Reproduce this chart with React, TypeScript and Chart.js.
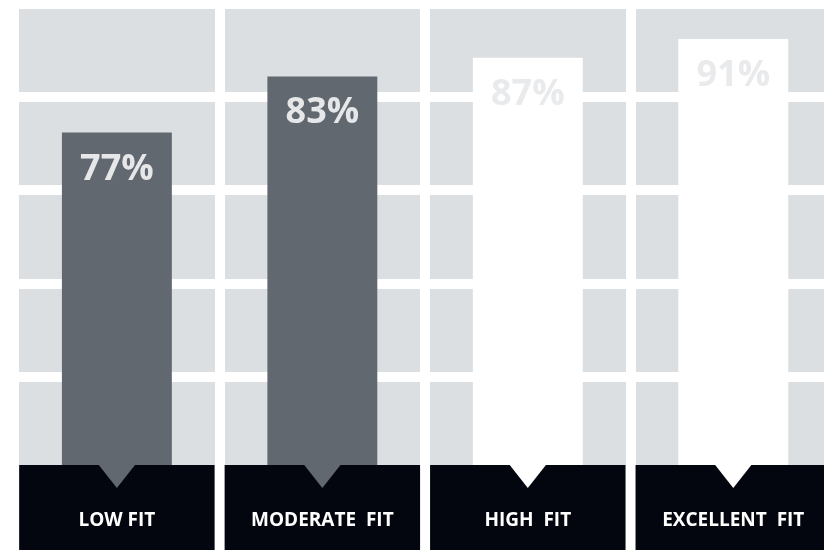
import React, { useEffect, useRef } from "react";
import { Chart, registerables } from "chart.js";

Chart.register(...registerables);

// Categories shown in the black band
const categories = ["LOW FIT", "MODERATE  FIT", "HIGH  FIT", "EXCELLENT  FIT"];
// Bar heights as drawn in the picture (percent of the axis)
const barLevels = [71, 83, 87, 91];
// Percentages printed on the bars
const percentLabels = [77, 83, 87, 91];
// Row divider positions of the background grid
const rowTicks = [1, 2, 3, 4];

const barColors = ["#61686f", "#61686f", "#ffffff", "#ffffff"];
const percentColors = ["#e6e7e9", "#e6e7e9", "#e9eaec", "#e9eaec"];
const panelColor = "#dcdfe2";
const bandColor = "#03060e";
const FONT = '"Open Sans", "Noto Sans", sans-serif';

const decorPlugin = {
  id: "decor",
  beforeDraw(chart: any) {
    const { ctx, chartArea, scales } = chart;
    ctx.save();
    ctx.fillStyle = panelColor;
    ctx.fillRect(
      chartArea.left,
      chartArea.top,
      chartArea.right - chartArea.left,
      chartArea.bottom - chartArea.top
    );
    const n = categories.length;
    const w = (chartArea.right - chartArea.left) / n;
    ctx.fillStyle = bandColor;
    for (let i = 0; i < n; i++) {
      const c = scales.x.getPixelForValue(i);
      ctx.fillRect(c - w / 2 + 5, chartArea.bottom, w - 10, chart.height - chartArea.bottom);
    }
    ctx.restore();
  },
  afterDatasetsDraw(chart: any) {
    const { ctx, chartArea } = chart;
    const meta = chart.getDatasetMeta(0);
    ctx.save();
    meta.data.forEach((bar: any, i: number) => {
      const base = chartArea.bottom;
      ctx.fillStyle = barColors[i];
      ctx.beginPath();
      ctx.moveTo(bar.x - 18.5, base - 0.5);
      ctx.lineTo(bar.x + 18.5, base - 0.5);
      ctx.lineTo(bar.x, base + 23);
      ctx.closePath();
      ctx.fill();
      ctx.fillStyle = percentColors[i];
      ctx.font = `bold 36px ${FONT}`;
      ctx.textAlign = "center";
      ctx.textBaseline = "alphabetic";
      ctx.fillText(percentLabels[i] + "%", bar.x, bar.y + 47);
    });
    ctx.restore();
  },
};

export default function App() {
  const canvasRef = useRef<HTMLCanvasElement | null>(null);

  useEffect(() => {
    const canvas = canvasRef.current;
    if (!canvas) return;
    const chart = new Chart(canvas, {
      type: "bar",
      data: {
        labels: categories,
        datasets: [
          {
            data: barLevels,
            backgroundColor: barColors,
            borderWidth: 0,
            categoryPercentage: 1,
            barPercentage: 0.535,
            yAxisID: "y",
          },
        ],
      },
      options: {
        responsive: false,
        animation: false,
        events: [],
        layout: { padding: { left: 14.15, right: 13, top: 9, bottom: 0 } },
        plugins: {
          legend: { display: false },
          tooltip: { enabled: false },
        },
        scales: {
          x: {
            type: "category",
            offset: true,
            grid: { offset: true, color: "#ffffff", lineWidth: 10, drawTicks: false },
            border: { display: false },
            ticks: {
              color: "#ffffff",
              font: { family: FONT, size: 19, weight: "bold" },
              padding: 44,
              maxRotation: 0,
              autoSkip: false,
            },
            afterFit: (s: any) => {
              s.height = 85;
            },
          },
          y: {
            display: false,
            min: 0,
            max: 97.4,
          },
          y2: {
            type: "linear",
            position: "left",
            min: 0.064,
            max: 4.941,
            afterBuildTicks: (s: any) => {
              s.ticks = rowTicks.map((v) => ({ value: v }));
            },
            grid: { color: "#ffffff", lineWidth: 10, drawTicks: false },
            border: { display: false },
            ticks: { display: false },
            afterFit: (s: any) => {
              s.width = 0;
            },
          },
        },
      },
      plugins: [decorPlugin],
    } as any);

    let alive = true;
    if ((document as any).fonts && (document as any).fonts.load) {
      Promise.all([
        (document as any).fonts.load(`bold 36px "Open Sans"`),
        (document as any).fonts.load(`bold 19px "Open Sans"`),
      ])
        .then(() => {
          if (alive) chart.update();
        })
        .catch(() => {});
    }
    return () => {
      alive = false;
      chart.destroy();
    };
  }, []);

  return (
    <div
      style={{
        position: "fixed",
        left: 0,
        top: 0,
        width: 824,
        height: 550,
        overflow: "hidden",
        background: "#ffffff",
      }}
    >
      <canvas ref={canvasRef} width={850} height={550} style={{ display: "block" }} />
    </div>
  );
}
